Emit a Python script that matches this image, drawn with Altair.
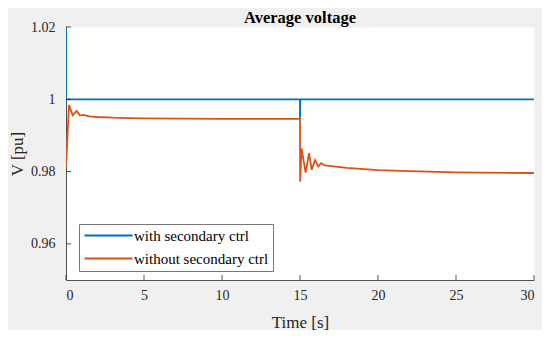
import altair as alt
import pandas as pd

# ---- data ----
title_text = ["Average voltage"]
series = ["with secondary ctrl", "without secondary ctrl"]
colors = ["#0072BD", "#D95319"]

t_with = [0.0, 0.0, 15.0, 15.0, 15.02, 30.0]
v_with = [1.02, 1.0, 1.0, 0.9947, 1.0, 1.0]

t_without = [0.0, 0.19, 0.43, 0.68, 0.9, 1.1, 1.5, 2.0, 3.0, 4.0, 5.0, 10.0, 15.0,
             15.01, 15.1, 15.36, 15.58, 15.75, 15.96, 16.17, 16.35, 16.6, 17.0,
             18.0, 20.0, 22.0, 25.0, 30.0]
v_without = [0.9812, 0.9984, 0.9956, 0.9968, 0.9955, 0.9957, 0.9953, 0.9951, 0.9949, 0.9948,
             0.9947, 0.9946, 0.9946,
             0.9772, 0.9864, 0.9797, 0.9851, 0.9805, 0.9832, 0.9814, 0.9823, 0.9817, 0.9815,
             0.9810, 0.9804, 0.9801, 0.9798, 0.9796]

x_ticks = [0, 5, 10, 15, 20, 25, 30]
y_ticks = [0.96, 0.98, 1.0, 1.02]

FONT = "Liberation Serif"
AX = "#262626"
W, H = 468, 253

df_with = pd.DataFrame({"t": t_with, "v": v_with, "s": series[0], "i": range(len(t_with))})
df_without = pd.DataFrame({"t": t_without, "v": v_without, "s": series[1], "i": range(len(t_without))})

x_enc = alt.X("t:Q", scale=alt.Scale(domain=[0, 30], nice=False, zero=False),
              axis=alt.Axis(values=x_ticks, title="Time [s]", grid=False, ticks=False,
                            domainColor=AX, domainWidth=0.8, labelFont=FONT, labelFontSize=14,
                            labelColor=AX, labelPadding=8, titleFont=FONT, titleFontSize=17,
                            titleFontWeight="normal", titleColor=AX, titleY=42,
                            titleBaseline="middle"))
y_enc = alt.Y("v:Q", scale=alt.Scale(domain=[0.95, 1.02], nice=False, zero=False),
              axis=alt.Axis(values=y_ticks, format=".3~g", title="V [pu]", grid=False, ticks=False,
                            domainColor=AX, domainWidth=0.8, labelFont=FONT, labelFontSize=14,
                            labelColor=AX, labelPadding=11, titleFont=FONT, titleFontSize=17,
                            titleFontWeight="normal", titleColor=AX, titleAngle=270,
                            titleX=-49, titleY=H / 2, titleBaseline="middle", titleAlign="center"))
color_enc = alt.Color("s:N", scale=alt.Scale(domain=series, range=colors),
                      legend=alt.Legend(title=None, orient="none", legendX=13, legendY=197,
                                        direction="vertical", symbolType="M-4,0H4",
                                        symbolSize=144, symbolStrokeWidth=2, symbolOffset=18,
                                        labelOffset=18, labelFont=FONT, labelFontSize=15,
                                        labelColor="black", padding=4, rowPadding=7,
                                        fillColor="white", strokeColor="#777"))

line_with = alt.Chart(df_with).mark_line(strokeWidth=1.8, clip=True).encode(
    x=x_enc, y=y_enc, color=color_enc, order="i:Q")
line_without = alt.Chart(df_without).mark_line(strokeWidth=1.8, clip=True).encode(
    x=x_enc, y=y_enc, color=color_enc, order="i:Q")

xt = alt.Chart(pd.DataFrame({"t": x_ticks})).mark_rule(color=AX, strokeWidth=0.8).encode(
    x="t:Q", y=alt.value(H), y2=alt.value(H - 5))
yt = alt.Chart(pd.DataFrame({"v": y_ticks})).mark_rule(color=AX, strokeWidth=0.8).encode(
    y="v:Q", x=alt.value(0), x2=alt.value(5))

title_layer = alt.Chart(pd.DataFrame({"title": title_text})).mark_text(
    font=FONT, fontSize=16.5, fontWeight="bold", color="black", align="center",
    baseline="alphabetic").encode(text="title:N", x=alt.value(W / 2), y=alt.value(-4))

chart = alt.layer(line_with, line_without, xt, yt, title_layer).properties(
    width=W, height=H,
    padding={"left": 58, "top": 19, "right": 8, "bottom": 50},
    autosize=alt.AutoSizeParams(type="none"),
    background="#f0f0f0",
).configure_view(fill="white", stroke="transparent")

chart.save("out.html", embed_options={"renderer": "svg", "actions": False})
